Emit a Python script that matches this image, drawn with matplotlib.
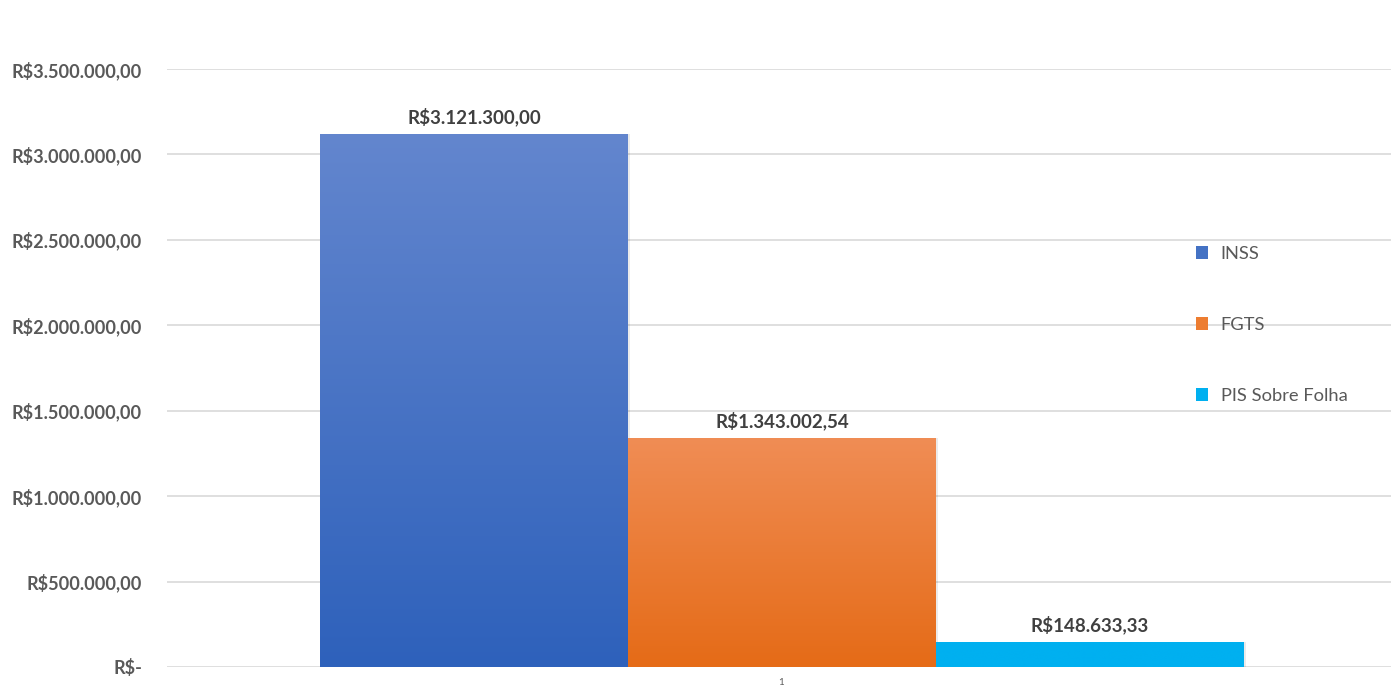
import matplotlib
matplotlib.use("Agg")
import matplotlib.pyplot as plt
import numpy as np
from matplotlib.colors import LinearSegmentedColormap
from matplotlib.patches import Patch

categories = ["1"]
series = ["INSS", "FGTS", "PIS Sobre Folha"]
values = [3121300.00, 1343002.54, 148633.33]
value_labels = ["R$3.121.300,00", "R$1.343.002,54", "R$148.633,33"]
yticks = [0, 500000, 1000000, 1500000, 2000000, 2500000, 3000000, 3500000]
ytick_labels = ["R$-", "R$500.000,00", "R$1.000.000,00", "R$1.500.000,00",
                "R$2.000.000,00", "R$2.500.000,00", "R$3.000.000,00", "R$3.500.000,00"]

top_colors = ["#6386ce", "#f08d55", "#00b0f0"]
bottom_colors = ["#2e61bb", "#e56b17", "#00b0f0"]
legend_colors = ["#4472c4", "#ed7d31", "#00b0f0"]

plt.rcParams['font.family'] = ['Lato', 'DejaVu Sans']
grey = "#595959"

fig = plt.figure(figsize=(13.91, 6.86), dpi=100)
W, H = 1391, 686
ax = fig.add_axes([167 / W, (H - 667) / H, (1391 - 167) / W, (667 - 69) / H])

ax.set_xlim(-0.5, 0.5)
ax.set_ylim(0, 3500000)
w = 308 / 1224
c = 0.0025
offsets = [c - w, c, c + w]

for i, (s, v) in enumerate(zip(series, values)):
    bars = ax.bar(offsets[i], v, width=w, color=legend_colors[i], zorder=3,
                  linewidth=0, label=s)
    bar = bars[0]
    x0, y0 = bar.get_x(), bar.get_y()
    bw, bh = bar.get_width(), bar.get_height()
    sh = plt.Rectangle((x0 + 0.0015, y0), bw, bh, facecolor="#000000", alpha=0.08,
                       zorder=2.5, linewidth=0)
    ax.add_patch(sh)
    cmap = LinearSegmentedColormap.from_list("g%d" % i, [bottom_colors[i], top_colors[i]])
    grad = np.linspace(0, 1, 256).reshape(-1, 1)
    im = ax.imshow(grad, extent=[x0, x0 + bw, y0, y0 + bh], origin="lower",
                   aspect="auto", cmap=cmap, zorder=3.5)
    im.set_clip_path(bar)
    ax.text(offsets[i], v + 45000, value_labels[i], ha="center", va="bottom",
            fontsize=13.5, fontweight="bold", color="#404040", zorder=5)

ax.set_aspect("auto")
ax.set_xlim(-0.5, 0.5)
ax.set_ylim(0, 3500000)

ax.set_yticks(yticks)
ax.set_yticklabels(ytick_labels, fontsize=13.1, fontweight="bold", color=grey)
ax.set_xticks([0.0016])
ax.set_xticklabels(categories, fontsize=7, color=grey)
ax.tick_params(axis="both", length=0)
ax.tick_params(axis="y", pad=18)
ax.tick_params(axis="x", pad=8)
ax.grid(axis="y", color="#d9d9d9", linewidth=1.2, zorder=0)
for sp in ax.spines.values():
    sp.set_visible(False)

handles = [Patch(facecolor=c_, edgecolor="none") for c_ in legend_colors]
leg = ax.legend(handles, series, loc="upper left", bbox_to_anchor=(1196 / W, (H - 246) / H),
                bbox_transform=fig.transFigure, frameon=False, fontsize=13.2,
                labelspacing=3.0, handlelength=0.65, handleheight=0.65, handletextpad=0.7,
                borderaxespad=0, borderpad=0)
for t in leg.get_texts():
    t.set_color(grey)

fig.savefig("out.png", dpi=100)
